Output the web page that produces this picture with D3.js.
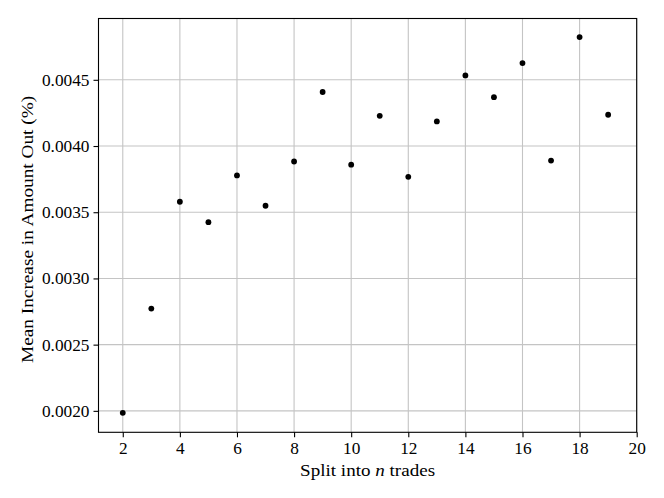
<!DOCTYPE html>
<html>
<head>
<meta charset="utf-8">
<script src="https://cdn.jsdelivr.net/npm/d3@7"></script>
<style>
  body { margin: 0; background: #fff; }
  svg text { font-family: "Liberation Serif", "DejaVu Serif", serif; fill: #000; }
</style>
</head>
<body>
<svg id="chart" width="664" height="498"></svg>
<script>
// split counts and the mean increase
const splits = [2, 3, 4, 5, 6, 7, 8, 9, 10, 11, 12, 13, 14, 15, 16, 17, 18, 19];
const meanIncrease = [0.001985, 0.002772, 0.003579, 0.003425, 0.003778, 0.003549, 0.003883,
  0.004408, 0.003859, 0.004228, 0.003767, 0.004186, 0.004533, 0.004369, 0.004626, 0.003890,
  0.004823, 0.004236];
const xTicks = [2, 4, 6, 8, 10, 12, 14, 16, 18, 20];
const yTicks = [0.0020, 0.0025, 0.0030, 0.0035, 0.0040, 0.0045];

const margin = {top: 18.5, right: 27.3, bottom: 65.7, left: 98.5};
const width = 664 - margin.left - margin.right;
const height = 498 - margin.top - margin.bottom;

const svg = d3.select('#chart');
const g = svg.append('g').attr('transform', `translate(${margin.left},${margin.top})`);

const data = splits.map((n, i) => ({n, v: meanIncrease[i]}));

const x = d3.scaleLinear().domain([1.15, 20]).range([0, width]);
const y = d3.scaleLinear().domain([0.001838, 0.004963]).range([height, 0]);

// grid
g.append('g').selectAll('line').data(xTicks).join('line')
  .attr('x1', d => x(d)).attr('x2', d => x(d)).attr('y1', 0).attr('y2', height)
  .attr('stroke', '#c4c4c4').attr('stroke-width', 1.1);
g.append('g').selectAll('line').data(yTicks).join('line')
  .attr('y1', d => y(d)).attr('y2', d => y(d)).attr('x1', 0).attr('x2', width)
  .attr('stroke', '#c4c4c4').attr('stroke-width', 1.1);

// axes
const xAxis = d3.axisBottom(x).tickValues(xTicks).tickSize(5).tickPadding(4).tickSizeOuter(0);
const yAxis = d3.axisLeft(y).tickValues(yTicks).tickSize(5).tickPadding(4).tickSizeOuter(0)
  .tickFormat(d3.format('.4f'));

const xg = g.append('g').attr('transform', `translate(0,${height})`).call(xAxis);
const yg = g.append('g').call(yAxis);
[xg, yg].forEach(a => {
  a.select('.domain').remove();
  a.selectAll('line').attr('stroke', '#000').attr('stroke-width', 1.1);
  a.selectAll('text').style('font-size', '17.3px');
});

// frame
g.append('rect').attr('width', width).attr('height', height)
  .attr('fill', 'none').attr('stroke', '#000').attr('stroke-width', 1.1);

// points
g.selectAll('.dot').data(data).join('circle')
  .attr('class', 'dot')
  .attr('cx', d => x(d.n)).attr('cy', d => y(d.v)).attr('r', 2.9)
  .attr('fill', '#000');

// labels
const xl = svg.append('text')
  .attr('x', margin.left + width / 2).attr('y', 476)
  .attr('text-anchor', 'middle').style('font-size', '17.5px')
  .attr('textLength', 135).attr('lengthAdjust', 'spacingAndGlyphs');
xl.append('tspan').text('Split into ');
xl.append('tspan').style('font-style', 'italic').text('n');
xl.append('tspan').text(' trades');

svg.append('text')
  .attr('transform', `translate(33,${margin.top + height / 2 + 4}) rotate(-90)`)
  .attr('text-anchor', 'middle').style('font-size', '17.5px')
  .attr('textLength', 267).attr('lengthAdjust', 'spacingAndGlyphs')
  .text('Mean Increase in Amount Out (%)');
</script>
</body>
</html>
